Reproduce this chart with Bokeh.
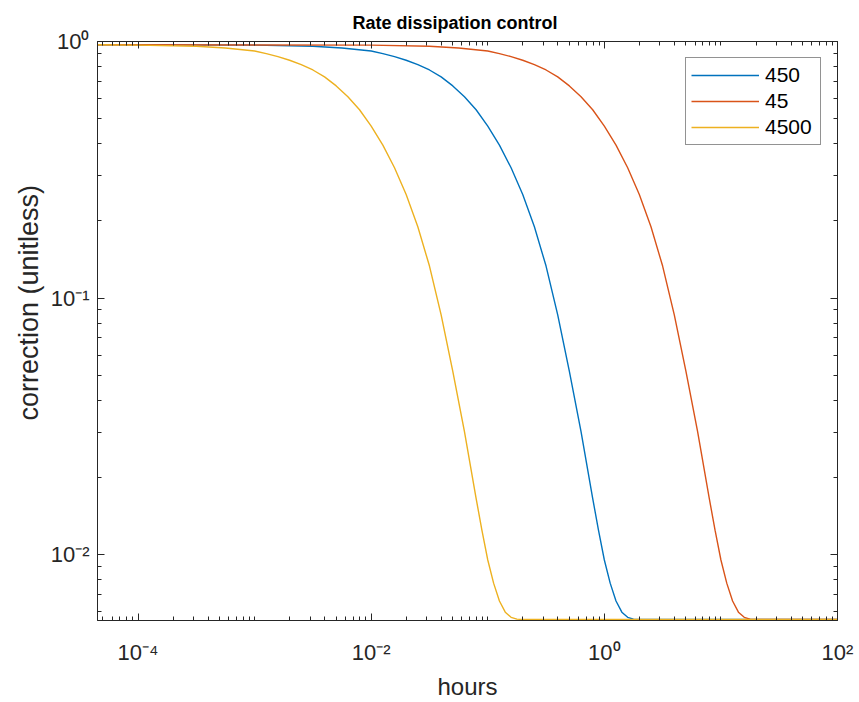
from bokeh.plotting import figure
from bokeh.models import (LogAxis, FixedTicker, Legend, LegendItem, Range1d, Title)
from bokeh.embed import file_html
from bokeh.resources import INLINE

# Correction factor versus elapsed time (hours), one curve per dissipation rate.
hours_450 = [4.49e-5, 0.001, 0.00316, 0.00562, 0.01, 0.01259, 0.01585, 0.01995,
             0.02512, 0.03162, 0.03981, 0.05012, 0.0631, 0.07943, 0.1, 0.1259,
             0.1585, 0.1995, 0.2512, 0.3162, 0.3981, 0.5012, 0.631, 0.7943,
             0.8913, 1.0, 1.122, 1.259, 1.413, 1.585, 1.778, 1.995, 100]
corr_450 = [0.9716, 0.9683, 0.9583, 0.9430, 0.9183, 0.8974, 0.8730, 0.8453,
            0.8128, 0.7745, 0.7278, 0.6714, 0.6095, 0.5420, 0.4677, 0.3945,
            0.3221, 0.2535, 0.1897, 0.1334, 0.0861, 0.0519, 0.0302, 0.0166,
            0.01245, 0.00955, 0.00776, 0.00661, 0.00598, 0.00571, 0.00562, 0.0056, 0.0056]

hours_45 = [4.49e-5, 0.01, 0.0316, 0.0562, 0.1, 0.1259, 0.1585, 0.1995,
            0.2512, 0.3162, 0.3981, 0.5012, 0.631, 0.7943, 1.0, 1.259,
            1.585, 1.995, 2.512, 3.162, 3.981, 5.012, 6.31, 7.943,
            8.913, 10.0, 11.22, 12.59, 14.13, 15.85, 17.78, 19.95, 100]
corr_45 = [0.9716, 0.9683, 0.9583, 0.9430, 0.9183, 0.8974, 0.8730, 0.8453,
           0.8128, 0.7745, 0.7278, 0.6714, 0.6095, 0.5420, 0.4677, 0.3945,
           0.3221, 0.2535, 0.1897, 0.1334, 0.0861, 0.0519, 0.0302, 0.0166,
           0.01245, 0.00955, 0.00776, 0.00661, 0.00598, 0.00571, 0.00562, 0.0056, 0.0056]

hours_4500 = [4.49e-5, 0.0001, 0.000316, 0.000562, 0.001, 0.001259, 0.001585, 0.001995,
              0.002512, 0.003162, 0.003981, 0.005012, 0.00631, 0.007943, 0.01, 0.01259,
              0.01585, 0.01995, 0.02512, 0.03162, 0.03981, 0.05012, 0.0631, 0.07943,
              0.08913, 0.1, 0.1122, 0.1259, 0.1413, 0.1585, 0.1778, 0.1995, 100]
corr_4500 = [0.9710, 0.9683, 0.9583, 0.9430, 0.9183, 0.8974, 0.8730, 0.8453,
             0.8128, 0.7745, 0.7278, 0.6714, 0.6095, 0.5420, 0.4677, 0.3945,
             0.3221, 0.2535, 0.1897, 0.1334, 0.0861, 0.0519, 0.0302, 0.0166,
             0.01245, 0.00955, 0.00776, 0.00661, 0.00598, 0.00571, 0.00562, 0.0056, 0.0056]

series_names = ["450", "45", "4500"]
series_colors = ["#0072BD", "#D95319", "#EDB120"]

x_major = [1e-4, 1e-2, 1.0, 100.0]
x_major_labels = ["10\u207b\u2074", "10\u207b\u00b2", "10\u2070", "10\u00b2"]
y_major = [1e-2, 1e-1, 1.0]
y_major_labels = ["10\u207b\u00b2", "10\u207b\u00b9", "10\u2070"]

X_LO, X_HI = 4.49e-5, 100.0
Y_LO, Y_HI = 0.00555, 1.0

x_minor = [k * 10.0 ** n for n in range(-5, 2) for k in range(1, 10)
           if X_LO <= k * 10.0 ** n <= X_HI and k * 10.0 ** n not in x_major]
y_minor = [k * 10.0 ** n for n in range(-3, 0) for k in range(1, 10)
           if Y_LO <= k * 10.0 ** n <= Y_HI and k * 10.0 ** n not in y_major]

FONT = "Liberation Sans"
INK = "#262626"

p = figure(width=859, height=702, x_axis_type="log", y_axis_type="log",
           x_range=Range1d(X_LO, X_HI), y_range=Range1d(Y_LO, Y_HI),
           output_backend="svg", toolbar_location=None,
           min_border_left=97, min_border_right=22,
           min_border_top=41, min_border_bottom=79,
           background_fill_color="white", border_fill_color="white")

p.title.text = "Rate dissipation control"
p.title.align = "left"
p.title.offset = 255
p.title.text_font = FONT
p.title.text_font_style = "bold"
p.title.text_font_size = "18px"
p.title.text_color = "#000000"
p.title.standoff = 18

p.xgrid.visible = False
p.ygrid.visible = False
p.outline_line_color = INK
p.outline_line_width = 1


def style_axis(ax, ticks, minor, labels=None):
    ax.ticker = FixedTicker(ticks=ticks, minor_ticks=minor)
    ax.axis_line_color = INK
    ax.major_tick_line_color = INK
    ax.minor_tick_line_color = INK
    ax.major_tick_in = 7
    ax.major_tick_out = 0
    ax.minor_tick_in = 4
    ax.minor_tick_out = 0
    ax.major_label_text_font = FONT
    ax.major_label_text_color = INK
    ax.axis_label_text_font = FONT
    ax.axis_label_text_color = INK
    ax.axis_label_text_font_style = "normal"
    if labels is None:
        # mirrored box ticks only
        ax.major_label_text_font_size = "1px"
        ax.major_label_text_alpha = 0
        ax.major_label_standoff = 0
    else:
        ax.major_label_overrides = {t: s for t, s in zip(ticks, labels)}
        ax.major_label_text_font_size = "22px"


xa = p.xaxis[0]
style_axis(xa, x_major, x_minor, x_major_labels)
xa.major_label_standoff = 19
xa.axis_label = "hours"
xa.axis_label_text_font_size = "24px"
xa.axis_label_standoff = 5

ya = p.yaxis[0]
style_axis(ya, y_major, y_minor, y_major_labels)
ya.major_label_standoff = 8

# y-axis title, set as a side title so it can sit slightly above centre
ytitle = Title(text="correction (unitless)", align="left", offset=200,
               text_font=FONT, text_font_size="27px", text_font_style="normal",
               text_color=INK, standoff=8)
p.add_layout(ytitle, "left")

top_axis = LogAxis()
style_axis(top_axis, x_major, x_minor)
p.add_layout(top_axis, "above")

right_axis = LogAxis()
style_axis(right_axis, y_major, y_minor)
p.add_layout(right_axis, "right")

series = [(hours_450, corr_450), (hours_45, corr_45), (hours_4500, corr_4500)]
items = []
for (hrs, corr), name, color in zip(series, series_names, series_colors):
    r = p.line(hrs, corr, line_color=color, line_width=1.4)
    items.append(LegendItem(label=name, renderers=[r]))

legend = Legend(items=items, location="top_right", margin=16,
                padding=5, spacing=2, glyph_width=68, glyph_height=20,
                label_height=20, label_width=50, label_standoff=6,
                label_text_font=FONT, label_text_font_size="21px",
                label_text_color="#000000",
                border_line_color=INK, border_line_width=1,
                background_fill_color="white", background_fill_alpha=1.0)
p.add_layout(legend)

with open("out.html", "w") as f:
    f.write(file_html(p, INLINE, title="Rate dissipation control"))
